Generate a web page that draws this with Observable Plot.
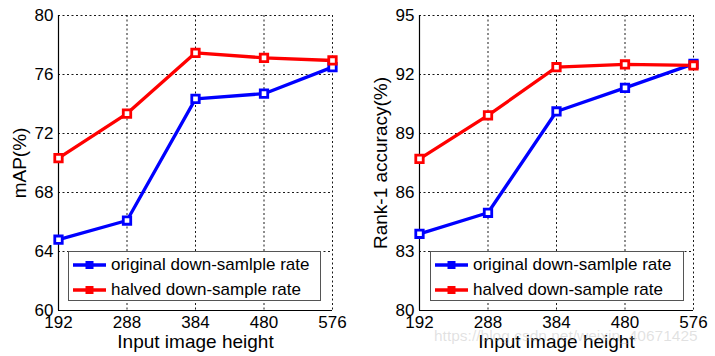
<!DOCTYPE html>
<html>
<head>
<meta charset="utf-8">
<script src="https://cdn.jsdelivr.net/npm/d3@7"></script>
<script src="https://cdn.jsdelivr.net/npm/@observablehq/plot@0.6"></script>
<style>
  html, body { margin: 0; padding: 0; background: #fff; }
  #wrap { position: relative; width: 715px; height: 356px; overflow: hidden; font-family: "Liberation Sans", Arial, sans-serif; }
  .panel { position: absolute; top: 0; }
  .legend { position: absolute; background: #fff; border: 1px solid #555; box-sizing: border-box; font-size: 17px; color: #000; }
  .legend .row { position: absolute; left: 0; height: 20px; display: flex; align-items: center; white-space: nowrap; }
  .legend svg { margin-left: 4px; margin-right: 5px; }
  .wm { position: absolute; font-size: 15.5px; color: rgba(170,170,170,0.35); white-space: nowrap; }
</style>
</head>
<body>
<div id="wrap"></div>
<script>
// ---- data ----
const heights = [192, 288, 384, 480, 576];
const seriesNames = ["original down-samlple rate", "halved down-sample rate"];
const seriesColors = ["#0000ff", "#ff0000"];
const mapOriginal = [64.8, 66.1, 74.35, 74.7, 76.5];
const mapHalved = [70.33, 73.35, 77.47, 77.13, 76.95];
const rank1Original = [83.9, 84.97, 90.12, 91.32, 92.54];
const rank1Halved = [87.71, 89.92, 92.37, 92.51, 92.46];
const mapTicks = [60, 64, 68, 72, 76, 80];
const rank1Ticks = [80, 83, 86, 89, 92, 95];
const xLabel = "Input image height";
const mapLabel = "mAP(%)";
const rank1Label = "Rank-1 accuracy(%)";
const watermark = "https://blog.csdn.net/weixin_40671425";

function rows(orig, halved) {
  const out = [];
  heights.forEach((h, i) => out.push({h, v: orig[i], s: seriesNames[0]}));
  heights.forEach((h, i) => out.push({h, v: halved[i], s: seriesNames[1]}));
  return out;
}

function panel({left, width, mLeft, mRight, yTicks, yLabel, orig, halved, yLabelDx}) {
  const data = rows(orig, halved);
  const yDom = [yTicks[0], yTicks[yTicks.length - 1]];
  const grid = {stroke: "#000", strokeOpacity: 0.9, strokeDasharray: "2,2.5", strokeWidth: 1};
  const chart = Plot.plot({
    width, height: 356,
    marginLeft: mLeft, marginRight: mRight, marginTop: 15, marginBottom: 46,
    style: {fontFamily: '"Liberation Sans", Arial, sans-serif', fontSize: "17px", color: "#000", background: "#fff"},
    x: {domain: [192, 576], ticks: heights, tickFormat: d => String(d), tickSize: 0, tickPadding: 5, label: null},
    y: {domain: yDom, ticks: yTicks, tickFormat: d => String(d), tickSize: 0, tickPadding: 5, label: null},
    color: {domain: seriesNames, range: seriesColors},
    marks: [
      Plot.gridX(heights, grid),
      Plot.gridY(yTicks, grid),
      Plot.ruleX([192], {stroke: "#000", strokeWidth: 1.2}),
      Plot.ruleY([yDom[0]], {stroke: "#000", strokeWidth: 1.2}),
      Plot.line(data, {x: "h", y: "v", z: "s", stroke: "s", strokeWidth: 3.3}),
      Plot.dot(data, {x: "h", y: "v", stroke: "s", fill: "#fff", symbol: "square", r: 4.2, strokeWidth: 2.8}),
      Plot.text([xLabel], {frameAnchor: "bottom", dy: 37, fontSize: 19, fill: "#000", textAnchor: "middle"}),
      Plot.text([yLabel], {frameAnchor: "left", rotate: -90, dx: yLabelDx, fontSize: 19, fill: "#000", textAnchor: "middle"})
    ]
  });
  const div = document.createElement("div");
  div.className = "panel";
  div.style.left = left + "px";
  div.appendChild(chart);
  return div;
}

const wrap = document.getElementById("wrap");
wrap.appendChild(panel({left: 0, width: 358, mLeft: 58, mRight: 26, yTicks: mapTicks, yLabel: mapLabel, orig: mapOriginal, halved: mapHalved, yLabelDx: -39}));
wrap.appendChild(panel({left: 358, width: 357, mLeft: 61, mRight: 22, yTicks: rank1Ticks, yLabel: rank1Label, orig: rank1Original, halved: rank1Halved, yLabelDx: -39}));

function legend(left, top, w, h) {
  const lg = document.createElement("div");
  lg.className = "legend";
  Object.assign(lg.style, {left: left + "px", top: top + "px", width: w + "px", height: h + "px"});
  seriesNames.forEach((name, i) => {
    const row = document.createElement("div");
    row.className = "row";
    row.style.top = (3 + i * 25) + "px";
    const sw = d3.create("svg").attr("width", 33).attr("height", 20);
    sw.append("line").attr("x1", 0).attr("x2", 33).attr("y1", 10).attr("y2", 10).attr("stroke", seriesColors[i]).attr("stroke-width", 3.3);
    sw.append("rect").attr("x", 12.5).attr("y", 6).attr("width", 8).attr("height", 8).attr("fill", seriesColors[i]);
    row.appendChild(sw.node());
    const t = document.createElement("span");
    t.textContent = name;
    row.appendChild(t);
    lg.appendChild(row);
  });
  wrap.appendChild(lg);
}
legend(68, 251, 253, 50);
legend(430, 251, 254, 50);

const wm = document.createElement("div");
wm.className = "wm";
wm.textContent = watermark;
Object.assign(wm.style, {left: "434px", top: "327px"});
wrap.appendChild(wm);
</script>
</body>
</html>
